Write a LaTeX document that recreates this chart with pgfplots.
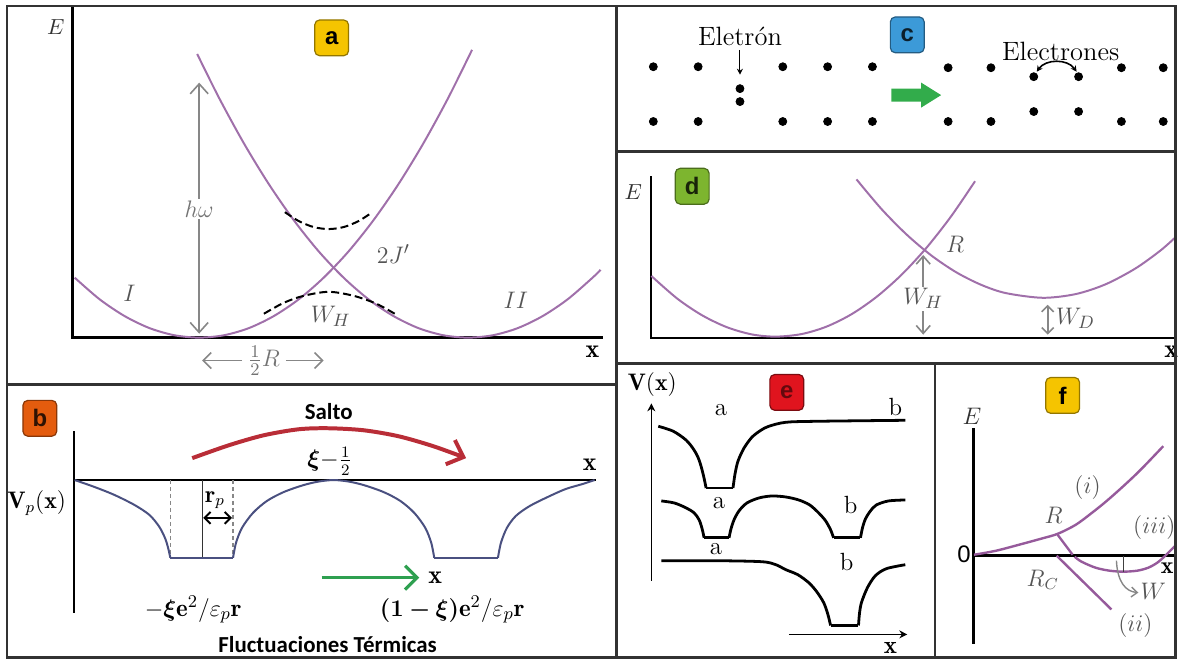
\documentclass[border=0pt]{standalone}
\usepackage{amsmath}
\usepackage{bm}
\usepackage{fontspec}
\usepackage{pgfplots}
\pgfplotsset{compat=1.18}
\usetikzlibrary{arrows.meta}
\newfontfamily\calib{Carlito}
\newfontfamily\arialf{Liberation Sans}

\definecolor{parab}{RGB}{160,112,170}
\definecolor{parabf}{RGB}{150,90,155}
\definecolor{wellblue}{RGB}{74,80,128}
\definecolor{jumpred}{RGB}{185,45,55}
\definecolor{thermgreen}{RGB}{46,160,80}
\definecolor{blockgreen}{RGB}{50,172,75}
\definecolor{framegray}{RGB}{50,50,50}
\definecolor{lblgray}{RGB}{85,85,85}
\definecolor{arrgray}{RGB}{135,135,135}
\definecolor{byellow}{RGB}{245,196,0}
\definecolor{borange}{RGB}{228,92,14}
\definecolor{bblue}{RGB}{60,154,216}
\definecolor{bgreen}{RGB}{125,181,47}
\definecolor{bred}{RGB}{224,20,30}

\tikzset{
  badge/.style={rounded corners=2.5pt, minimum width=17pt, minimum height=18pt,
    inner sep=0pt, line width=0.6pt, font=\arialf\bfseries\fontsize{12}{12}\selectfont},
}

\begin{document}
\begin{tikzpicture}
\begin{axis}[
  width=591pt, height=331pt, scale only axis,
  xmin=0, xmax=1182, ymin=0, ymax=662, y dir=reverse,
  hide axis, clip=false,
]
\path (axis cs:0,0) rectangle (axis cs:1182,662);

% ---------------- panel a: two displaced parabolas ----------------
\addplot[black, line width=1.5pt] coordinates {(73,7) (73,339) (605,339)};
\addplot[parab, line width=1pt, smooth] coordinates {
 (75,278.8) (100,300.5) (125,317.3) (150,329.4) (175,336.6) (200,339)
 (225,336.6) (250,329.4) (275,317.3) (300,300.5) (325,278.8) (350,252.4)
 (375,221.1) (400,185) (425,144.1) (450,98.4) (474,50)};
\addplot[parab, line width=1pt, smooth] coordinates {
 (198,54.2) (220,98.4) (245,144.1) (270,185) (295,221.1) (320,252.4)
 (345,278.8) (370,300.5) (395,317.3) (420,329.4) (445,336.6) (470,339)
 (495,336.6) (520,329.4) (545,317.3) (570,300.5) (595,278.8) (603,270.9)};
\addplot[black, line width=1pt, smooth, dash pattern=on 4pt off 2pt] coordinates {
 (286,213) (300,222) (315,228) (330,230) (345,228) (360,222) (374,213)};
\addplot[black, line width=1pt, smooth, dash pattern=on 4pt off 2pt] coordinates {
 (265,315) (285,304) (305,297) (330,293) (355,297) (378,305) (398,316)};
\addplot[arrgray, line width=0.8pt, {Straight Barb[length=5pt,width=9pt]}-{Straight Barb[length=5pt,width=9pt]}]
 coordinates {(200,83) (200,335)};
\node[fill=white, text=arrgray!85!black, inner sep=1pt, font=\fontsize{13}{14}\selectfont] at (axis cs:200,210) {$h\omega$};
\addplot[arrgray, line width=0.8pt, -{Straight Barb[length=4pt,width=8pt]}] coordinates {(243,362) (203,362)};
\addplot[arrgray, line width=0.8pt, -{Straight Barb[length=4pt,width=8pt]}] coordinates {(287,362) (325,362)};
\node[text=arrgray!85!black, font=\fontsize{13}{14}\selectfont] at (axis cs:265,362) {$\frac{1}{2}R$};
\node[text=framegray, font=\fontsize{11}{12}\selectfont] at (axis cs:56,27) {$E$};
\node[badge, fill=byellow, draw=byellow!60!black, text=black] at (axis cs:333,38) {a};
\node[text=lblgray, font=\fontsize{13}{14}\selectfont] at (axis cs:395,255) {$2J'$};
\node[text=lblgray, font=\fontsize{12}{14}\selectfont] at (axis cs:130,295) {$I$};
\node[text=lblgray, font=\fontsize{12}{14}\selectfont] at (axis cs:518,302) {$II$};
\node[text=lblgray, font=\fontsize{13}{14}\selectfont] at (axis cs:332,318) {$W_H$};
\node[text=black, font=\fontsize{13}{14}\selectfont] at (axis cs:595,353) {$\mathbf{x}$};

% ---------------- panel b: polaron potential wells ----------------
\addplot[black, line width=0.9pt] coordinates {(74,433) (74,615)};
\addplot[black, line width=0.9pt] coordinates {(74,482) (598,482)};
\addplot[arrgray, line width=0.8pt, dash pattern=on 2pt off 1.5pt] coordinates {(171,482) (171,560)};
\addplot[arrgray, line width=0.8pt, dash pattern=on 2pt off 1.5pt] coordinates {(234,482) (234,560)};
\addplot[black!80, line width=0.6pt] coordinates {(203,482) (203,560)};
\addplot[wellblue, line width=1pt, smooth] coordinates {
 (75,482) (95,489) (115,497) (135,507) (150,517) (160,529) (166,541) (169,551) (171,560)};
\addplot[wellblue, line width=1pt] coordinates {(171,560) (234,560)};
\addplot[wellblue, line width=1pt, smooth] coordinates {
 (234,560) (237,545) (243,530) (254,515) (268,503) (285,494) (305,487) (320,483.5) (335,482)
 (350,483.5) (365,487) (385,494) (402,503) (416,515) (427,530) (433,545) (436,560)};
\addplot[wellblue, line width=1pt] coordinates {(436,560) (500,560)};
\addplot[wellblue, line width=1pt, smooth] coordinates {
 (500,560) (503,545) (509,530) (518,518) (532,508) (550,499) (568,491) (585,486) (597,482)};
\addplot[black, line width=1pt, {Straight Barb[length=3pt,width=6pt]}-{Straight Barb[length=3pt,width=6pt]}]
 coordinates {(204,520) (233,520)};
\addplot[jumpred, line width=2pt, smooth, -{Straight Barb[length=7pt,width=13pt]}] coordinates {
 (193,460) (230,447) (265,437) (300,431) (330,430) (365,432) (400,438) (435,448) (468,460)};
\addplot[thermgreen, line width=1.6pt, -{Straight Barb[length=6pt,width=12pt]}] coordinates {(323,580) (421,580)};
\node[badge, fill=borange, draw=borange!60!black, text=black!80!borange] at (axis cs:40,420) {b};
\node[font=\calib\bfseries\fontsize{11.5}{13}\selectfont] at (axis cs:330,413) {Salto};
\node[inner sep=0.5pt, font=\fontsize{12}{14}\selectfont] at (axis cs:331,463) {$\bm{\xi}{-}\frac{1}{2}$};
\node[font=\fontsize{13}{14}\selectfont] at (axis cs:592,467) {$\mathbf{x}$};
\node[font=\fontsize{12}{14}\selectfont] at (axis cs:37,505) {$\mathbf{V}_{p}(\mathbf{x})$};
\node[font=\fontsize{12}{14}\selectfont] at (axis cs:216,502) {$\mathbf{r}_p$};
\node[font=\fontsize{13}{14}\selectfont] at (axis cs:437,580) {$\mathbf{x}$};
\node[font=\fontsize{12.5}{14}\selectfont] at (axis cs:194,612) {$-\bm{\xi}\mathbf{e}^2/\varepsilon_p\mathbf{r}$};
\node[font=\fontsize{12.5}{14}\selectfont] at (axis cs:454,612) {$\bm{(1-\xi)}\mathbf{e}^2/\varepsilon_p\mathbf{r}$};
\node[font=\calib\bfseries\fontsize{11.5}{13}\selectfont] at (axis cs:329,647) {Fluctuaciones Térmicas};

% ---------------- panel c: electrons in the lattice ----------------
\addplot[only marks, mark=*, mark size=2pt, black] coordinates {
 (656,67) (701,67) (786,67) (831,67) (876,67) (952,68) (995,68) (1126,68) (1168,68)
 (656,122) (701,122) (786,122) (831,122) (876,122) (952,122) (995,122) (1126,122) (1168,122)
 (743,89) (743,102) (1038,77) (1083,77) (1038,112) (1083,112)};
\addplot[black, line width=0.5pt, -{Stealth[length=3pt,width=3pt]}] coordinates {(743,50) (743,75)};
\draw[black, line width=0.8pt, {Stealth[length=3pt,width=3pt]}-{Stealth[length=3pt,width=3pt]}]
 (axis cs:1041,72) .. controls (axis cs:1050,59) and (axis cs:1072,59) .. (axis cs:1081,72);
\addplot[fill=blockgreen, draw=none] coordinates {
 (895,89) (925,89) (925,83) (945,95.5) (925,108) (925,102) (895,102)} -- cycle;
\node[font=\fontsize{13.3}{15}\selectfont] at (axis cs:743,37) {Eletrón};
\node[font=\fontsize{13.3}{15}\selectfont] at (axis cs:1065,52) {Electrones};
\node[badge, fill=bblue, draw=bblue!60!black, text=black!80!bblue] at (axis cs:911,35) {c};

% ---------------- panel d: asymmetric sites ----------------
\addplot[black, line width=1pt] coordinates {(654,177) (654,339) (1182,339)};
\addplot[parab, line width=1pt, smooth] coordinates {
 (654,277.1) (680,299.8) (705,316.6) (730,328.6) (755,335.8) (779,338) (805,335.4)
 (830,327.9) (855,315.5) (880,298.2) (905,276.1) (930,249.1) (955,217.2) (979,182)};
\addplot[parab, line width=1pt, smooth] coordinates {
 (860,180.1) (885,209.8) (910,235.2) (935,256.4) (960,273.3) (985,285.9) (1010,294.3)
 (1047,299) (1080,295.3) (1110,285.5) (1140,269.6) (1165,251.7) (1180,238.5)};
\addplot[arrgray, line width=0.8pt, {Straight Barb[length=4pt,width=7pt]}-{Straight Barb[length=4pt,width=7pt]}]
 coordinates {(927,256) (927,336)};
\addplot[arrgray, line width=0.8pt, {Straight Barb[length=3pt,width=6pt]}-{Straight Barb[length=3pt,width=6pt]}]
 coordinates {(1052,306) (1052,336)};
\node[fill=white, inner sep=1pt, text=lblgray, font=\fontsize{12.5}{14}\selectfont] at (axis cs:927,300) {$W_H$};
\node[anchor=west, inner sep=1pt, text=lblgray, font=\fontsize{12.5}{14}\selectfont] at (axis cs:1058,320) {$W_D$};
\node[text=lblgray, font=\fontsize{12.5}{14}\selectfont] at (axis cs:959,245) {$R$};
\node[text=framegray, font=\fontsize{11}{12}\selectfont] at (axis cs:636,193) {$E$};
\node[badge, fill=bgreen, draw=bgreen!60!black, text=black!80!bgreen] at (axis cs:695,187) {d};
\node[overlay, font=\fontsize{13}{14}\selectfont] at (axis cs:1176,353) {$\mathbf{x}$};

% ---------------- panel e: site potentials ----------------
\addplot[black, line width=0.8pt, -{Stealth[length=4pt,width=4pt]}] coordinates {(654,583) (654,405)};
\addplot[black, line width=0.8pt, -{Stealth[length=4pt,width=4pt]}] coordinates {(792,637) (911,637)};
\addplot[black, line width=1.4pt, smooth] coordinates {
 (661,428) (676,433) (689,442) (697,452) (702,462) (706,476) (709,490)};
\addplot[black, line width=1.4pt] coordinates {(709,490) (736,490)};
\addplot[black, line width=1.4pt, smooth] coordinates {
 (736,490) (738,476) (741,463) (747,450) (755,439) (764,432) (772,428) (789,424) (820,423) (909,422)};
\addplot[black, line width=1.4pt, smooth] coordinates {
 (664,503) (677,505) (689,510) (697,515) (702,522) (705,531) (707,540)};
\addplot[black, line width=1.4pt] coordinates {(707,540) (732,540)};
\addplot[black, line width=1.4pt, smooth] coordinates {
 (732,540) (734,531) (737,522) (742,513) (750,505) (762,500) (775,498) (789,499)
 (802,502) (813,507) (822,515) (829,523) (834,532) (837,540)};
\addplot[black, line width=1.4pt] coordinates {(837,540) (864,540)};
\addplot[black, line width=1.4pt, smooth] coordinates {
 (864,540) (866,530) (869,521) (874,513) (880,507) (892,503) (909,502)};
\addplot[black, line width=1.4pt, smooth] coordinates {
 (664,563) (720,563) (765,564) (779,567) (789,572) (801,577) (812,585) (820,594) (827,605) (831,616) (834,628)};
\addplot[black, line width=1.4pt] coordinates {(834,628) (862,628)};
\addplot[black, line width=1.4pt, smooth] coordinates {
 (862,628) (863,616) (865,605) (871,590) (879,578) (890,571) (909,567)};
\node[font=\fontsize{12}{14}\selectfont] at (axis cs:655,386) {$\mathbf{V}(\mathbf{x})$};
\node[badge, fill=bred, draw=bred!55!black, text=bred!45!black] at (axis cs:790,394) {e};
\node[font=\fontsize{12.5}{14}\selectfont] at (axis cs:724,412) {a};
\node[font=\fontsize{12.5}{14}\selectfont] at (axis cs:899,409) {b};
\node[font=\fontsize{12.5}{14}\selectfont] at (axis cs:722,505) {a};
\node[font=\fontsize{12.5}{14}\selectfont] at (axis cs:854,507) {b};
\node[font=\fontsize{12.5}{14}\selectfont] at (axis cs:719,551) {a};
\node[font=\fontsize{12.5}{14}\selectfont] at (axis cs:850,564) {b};
\node[font=\fontsize{12.5}{14}\selectfont] at (axis cs:894,651) {$\mathbf{x}$};

% ---------------- panel f: energy branches ----------------
\addplot[black, line width=1.5pt] coordinates {(977,430) (977,647)};
\addplot[black, line width=1.5pt] coordinates {(977,558) (1182,558)};
\addplot[parabf, line width=1.2pt, smooth] coordinates {
 (978,557) (1000,553) (1023,547) (1045,541) (1062,536) (1080,527) (1095,516)
 (1110,504) (1127,489) (1145,472) (1168,448)};
\addplot[parabf, line width=1.2pt] coordinates {(1062,537) (1077,557)};
\addplot[parabf, line width=1.2pt, smooth] coordinates {
 (1079,559) (1086,564) (1100,570) (1114,573) (1128,574) (1142,573) (1153,570) (1162,565) (1170,558) (1180,548)};
\addplot[parabf, line width=1.2pt] coordinates {(1061,558) (1116,612)};
\addplot[black!75, line width=0.7pt] coordinates {(1128,558) (1128,574)};
\draw[arrgray, line width=0.7pt, -{Straight Barb[length=3pt,width=5pt]}]
 (axis cs:1121,563) .. controls (axis cs:1122,584) and (axis cs:1130,594) .. (axis cs:1143,595);
\node[badge, fill=byellow, draw=byellow!60!black, text=black] at (axis cs:1067,397) {f};
\node[text=framegray, font=\fontsize{12}{13}\selectfont] at (axis cs:976,418) {$E$};
\node[font=\arialf\fontsize{12}{13}\selectfont] at (axis cs:968,557) {0};
\node[text=lblgray, font=\fontsize{12}{14}\selectfont] at (axis cs:1092,490) {$(i)$};
\node[text=lblgray, font=\fontsize{12}{14}\selectfont] at (axis cs:1058,517) {$R$};
\node[text=lblgray, font=\fontsize{12}{14}\selectfont] at (axis cs:1159,530) {$(iii)$};
\node[inner sep=1pt, font=\fontsize{12}{14}\selectfont] at (axis cs:1172,571) {$\mathbf{x}$};
\node[text=lblgray, font=\fontsize{12}{14}\selectfont] at (axis cs:1047,582) {$R_C$};
\node[text=lblgray, font=\fontsize{12.5}{14}\selectfont] at (axis cs:1158,594) {$W$};
\node[text=lblgray, font=\fontsize{12}{14}\selectfont] at (axis cs:1140,628) {$(ii)$};

% ---------------- frames ----------------
\draw[framegray, line width=1.3pt] (axis cs:7,6) rectangle (axis cs:1180,660);
\draw[framegray, line width=1.3pt] (axis cs:7,386) -- (axis cs:619,386);
\draw[framegray, line width=1.3pt] (axis cs:619,6) -- (axis cs:619,660);
\draw[framegray, line width=1.3pt] (axis cs:619,152) -- (axis cs:1180,152);
\draw[framegray, line width=1.3pt] (axis cs:619,365) -- (axis cs:1180,365);
\draw[framegray, line width=1.3pt] (axis cs:939,365) -- (axis cs:939,660);
\end{axis}
\end{tikzpicture}
\end{document}
